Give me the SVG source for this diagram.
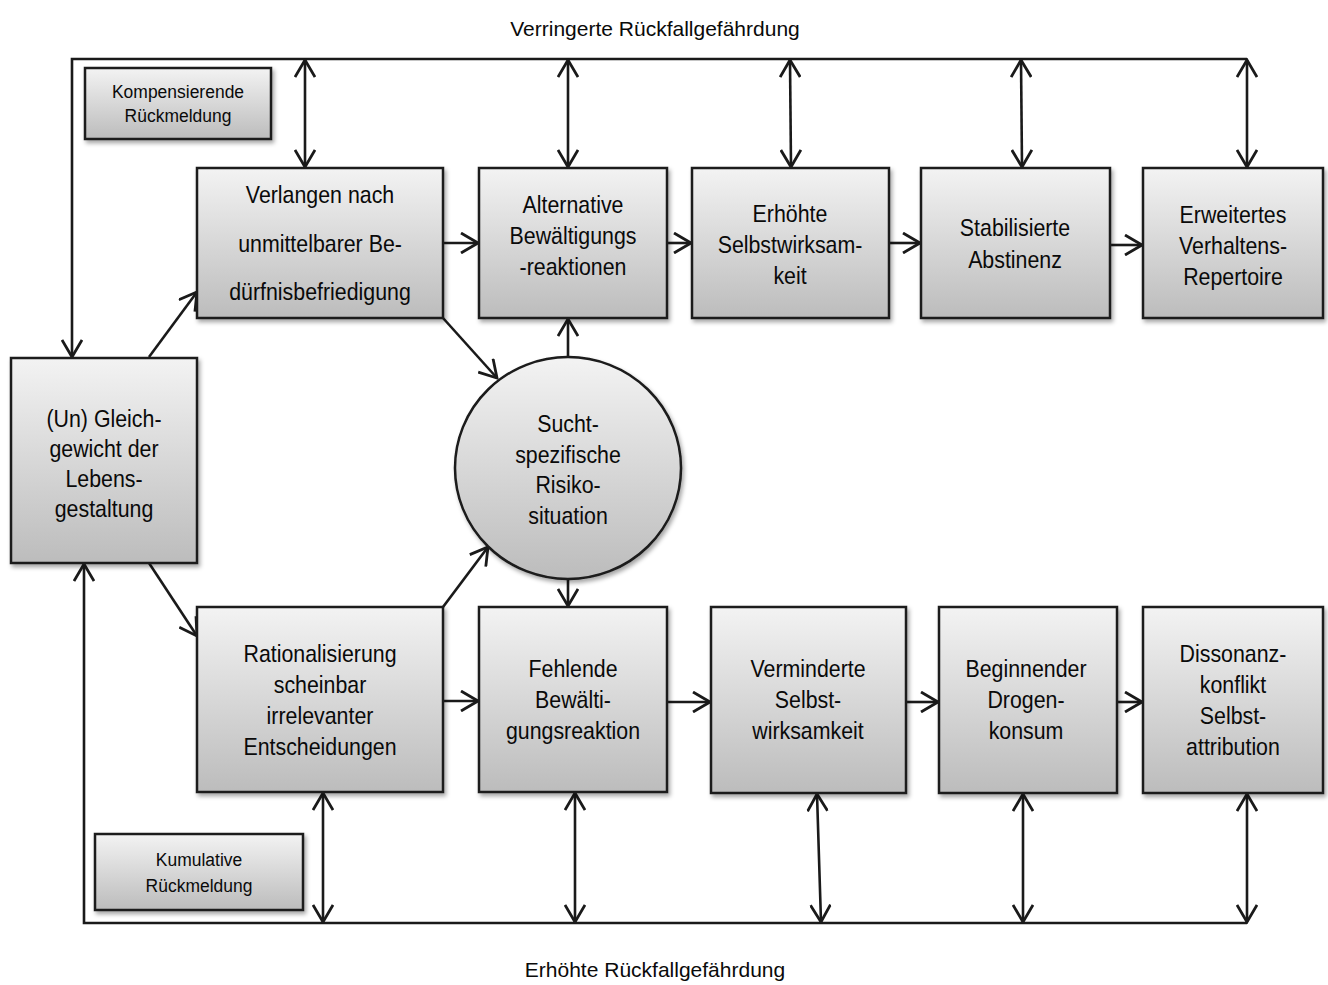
<svg xmlns="http://www.w3.org/2000/svg" width="1328" height="985" viewBox="0 0 1328 985">
<defs>
<linearGradient id="g" x1="0" y1="0" x2="0" y2="1">
<stop offset="0" stop-color="#f3f3f3"/>
<stop offset="1" stop-color="#bcbcbc"/>
</linearGradient>
<filter id="sh" x="-10%" y="-10%" width="130%" height="130%">
<feDropShadow dx="2" dy="3" stdDeviation="2" flood-color="#000" flood-opacity="0.35"/>
</filter>
<marker id="ah" viewBox="0 0 20 22" refX="18" refY="11" markerWidth="20" markerHeight="22" markerUnits="userSpaceOnUse" orient="auto-start-reverse">
<path d="M1,1 L18,11 L1,21" fill="none" stroke="#1a1a1a" stroke-width="2.8"/>
</marker>
<style>
.box{fill:url(#g);stroke:#1a1a1a;stroke-width:2.5;filter:url(#sh)}
.t{font-family:"Liberation Sans",Arial,sans-serif;font-size:24px;fill:#0a0a0a;text-anchor:middle}
.s{font-family:"Liberation Sans",Arial,sans-serif;font-size:19px;fill:#0a0a0a;text-anchor:middle}
.h{font-family:"Liberation Sans",Arial,sans-serif;font-size:21px;fill:#0a0a0a;text-anchor:middle}
.a{fill:none;stroke:#1a1a1a;stroke-width:2.6;marker-end:url(#ah)}
.d{fill:none;stroke:#1a1a1a;stroke-width:2.6;marker-end:url(#ah);marker-start:url(#ah)}
</style>
</defs>
<rect width="1328" height="985" fill="#fff"/>

<text class="h" x="655" y="36">Verringerte Rückfallgefährdung</text>
<text class="h" x="655" y="977">Erhöhte Rückfallgefährdung</text>

<g id="connectors">
<path class="a" d="M1247,59 H72 V357"/>
<path class="a" d="M1247,923 H84 V564"/>
<path class="d" d="M305,60 L305,167"/>
<path class="d" d="M568,60 L568,167"/>
<path class="d" d="M790,60 L791,167"/>
<path class="d" d="M1021,60 L1022,167"/>
<path class="d" d="M1247,60 L1247,167"/>
<path class="d" d="M323,793 L323,922"/>
<path class="d" d="M575,793 L575,922"/>
<path class="d" d="M817,794 L821,922"/>
<path class="d" d="M1023,794 L1023,922"/>
<path class="d" d="M1247,794 L1247,922"/>
<path class="a" d="M149,357 L197,292"/>
<path class="a" d="M443,318 L497,378"/>
<path class="a" d="M149,563 L197,636"/>
<path class="a" d="M443,607 L488,547"/>
<path class="a" d="M568,357 L568,319"/>
<path class="a" d="M568,579 L568,606"/>
<path class="a" d="M443,243 L478,243"/>
<path class="a" d="M667,243 L691,243"/>
<path class="a" d="M889,243 L920,243"/>
<path class="a" d="M1110,245 L1142,245"/>
<path class="a" d="M443,701 L478,701"/>
<path class="a" d="M667,702 L710,702"/>
<path class="a" d="M906,702 L938,702"/>
<path class="a" d="M1117,702 L1142,702"/>
</g>

<g id="kompensierende">
<rect class="box" x="85" y="68" width="186" height="71"/>
<text class="s" transform="translate(178,0) scale(0.92,1)"><tspan x="0" y="98">Kompensierende</tspan><tspan x="0" y="122">Rückmeldung</tspan></text>
</g>
<g id="kumulative">
<rect class="box" x="95" y="834" width="208" height="76"/>
<text class="s" transform="translate(199,0) scale(0.92,1)"><tspan x="0" y="866">Kumulative</tspan><tspan x="0" y="892">Rückmeldung</tspan></text>
</g>

<g id="verlangen">
<rect class="box" x="197" y="168" width="246" height="150"/>
<text class="t" transform="translate(320,0) scale(0.89,1)"><tspan x="0" y="203">Verlangen nach</tspan><tspan x="0" y="252">unmittelbarer Be-</tspan><tspan x="0" y="300">dürfnisbefriedigung</tspan></text>
</g>
<g id="alternative">
<rect class="box" x="479" y="168" width="188" height="150"/>
<text class="t" transform="translate(573,0) scale(0.89,1)"><tspan x="0" y="213">Alternative</tspan><tspan x="0" y="244">Bewältigungs</tspan><tspan x="0" y="275">-reaktionen</tspan></text>
</g>
<g id="erhoehte">
<rect class="box" x="692" y="168" width="197" height="150"/>
<text class="t" transform="translate(790,0) scale(0.89,1)"><tspan x="0" y="222">Erhöhte</tspan><tspan x="0" y="253">Selbstwirksam-</tspan><tspan x="0" y="284">keit</tspan></text>
</g>
<g id="stabilisierte">
<rect class="box" x="921" y="168" width="189" height="150"/>
<text class="t" transform="translate(1015,0) scale(0.89,1)"><tspan x="0" y="236">Stabilisierte</tspan><tspan x="0" y="268">Abstinenz</tspan></text>
</g>
<g id="erweitertes">
<rect class="box" x="1143" y="168" width="180" height="150"/>
<text class="t" transform="translate(1233,0) scale(0.89,1)"><tspan x="0" y="223">Erweitertes</tspan><tspan x="0" y="254">Verhaltens-</tspan><tspan x="0" y="285">Repertoire</tspan></text>
</g>

<g id="gleichgewicht">
<rect class="box" x="11" y="358" width="186" height="205"/>
<text class="t" transform="translate(104,0) scale(0.89,1)"><tspan x="0" y="427">(Un) Gleich-</tspan><tspan x="0" y="457">gewicht der</tspan><tspan x="0" y="487">Lebens-</tspan><tspan x="0" y="517">gestaltung</tspan></text>
</g>

<g id="risikosituation">
<ellipse class="box" cx="568" cy="468" rx="113" ry="111"/>
<text class="t" transform="translate(568,0) scale(0.89,1)"><tspan x="0" y="432">Sucht-</tspan><tspan x="0" y="463">spezifische</tspan><tspan x="0" y="493">Risiko-</tspan><tspan x="0" y="524">situation</tspan></text>
</g>

<g id="rationalisierung">
<rect class="box" x="197" y="607" width="246" height="185"/>
<text class="t" transform="translate(320,0) scale(0.89,1)"><tspan x="0" y="662">Rationalisierung</tspan><tspan x="0" y="693">scheinbar</tspan><tspan x="0" y="724">irrelevanter</tspan><tspan x="0" y="755">Entscheidungen</tspan></text>
</g>
<g id="fehlende">
<rect class="box" x="479" y="607" width="188" height="185"/>
<text class="t" transform="translate(573,0) scale(0.89,1)"><tspan x="0" y="677">Fehlende</tspan><tspan x="0" y="708">Bewälti-</tspan><tspan x="0" y="739">gungsreaktion</tspan></text>
</g>
<g id="verminderte">
<rect class="box" x="711" y="607" width="195" height="186"/>
<text class="t" transform="translate(808,0) scale(0.89,1)"><tspan x="0" y="677">Verminderte</tspan><tspan x="0" y="708">Selbst-</tspan><tspan x="0" y="739">wirksamkeit</tspan></text>
</g>
<g id="beginnender">
<rect class="box" x="939" y="607" width="178" height="186"/>
<text class="t" transform="translate(1026,0) scale(0.89,1)"><tspan x="0" y="677">Beginnender</tspan><tspan x="0" y="708">Drogen-</tspan><tspan x="0" y="739">konsum</tspan></text>
</g>
<g id="dissonanz">
<rect class="box" x="1143" y="607" width="180" height="186"/>
<text class="t" transform="translate(1233,0) scale(0.89,1)"><tspan x="0" y="662">Dissonanz-</tspan><tspan x="0" y="693">konflikt</tspan><tspan x="0" y="724">Selbst-</tspan><tspan x="0" y="755">attribution</tspan></text>
</g>
</svg>
